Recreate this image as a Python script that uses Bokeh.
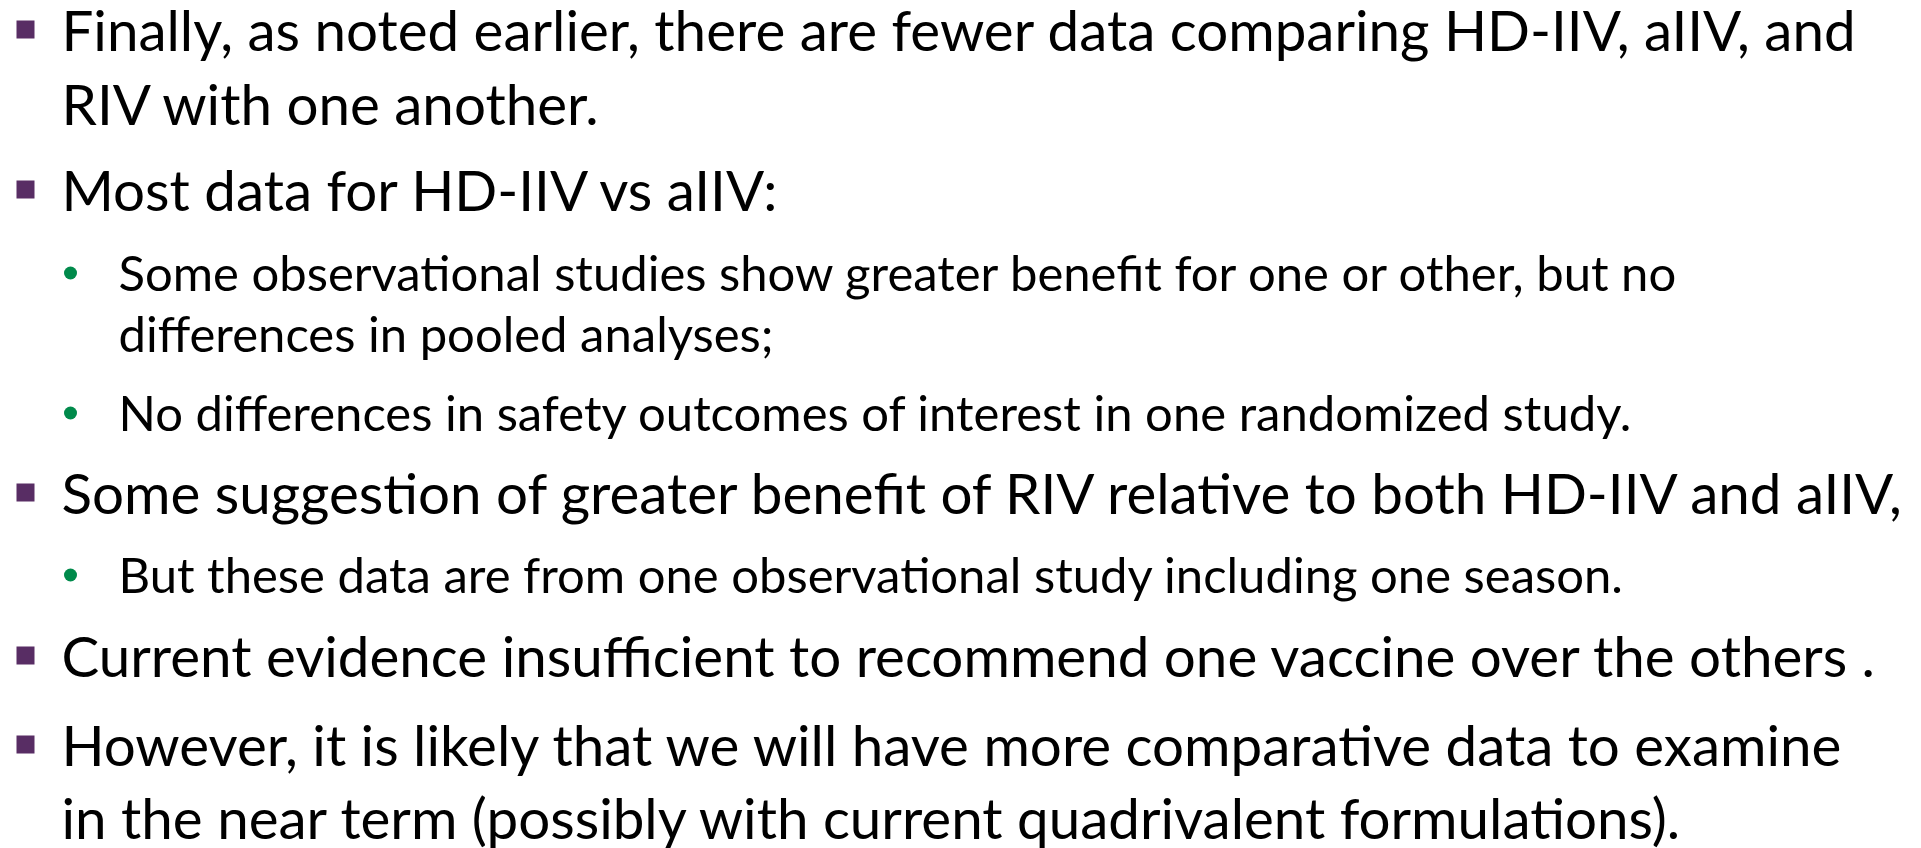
from bokeh.plotting import figure
from bokeh.models import Range1d, ColumnDataSource
from bokeh.core.properties import value
from bokeh.embed import file_html
from bokeh.resources import INLINE

# ---- content (text lines and their outline level) ----
lines = [
    "Finally, as noted earlier, there are fewer data comparing HD-IIV, aIIV, and",
    "RIV with one another.",
    "Most data for HD-IIV vs aIIV:",
    "Some observational studies show greater benefit for one or other, but no",
    "differences in pooled analyses;",
    "No differences in safety outcomes of interest in one randomized study.",
    "Some suggestion of greater benefit of RIV relative to both HD-IIV and aIIV,",
    "But these data are from one observational study including one season.",
    "Current evidence insufficient to recommend one vaccine over the others .",
    "However, it is likely that we will have more comparative data to examine",
    "in the near term (possibly with current quadrivalent formulations).",
]
levels = [0, 0, 0, 1, 1, 1, 0, 1, 0, 0, 0]
starts_bullet = [True, False, True, True, False, True, True, True, True, True, False]

# ---- layout (baselines in page pixels) ----
W, H = 1913, 848
baselines = [52, 126, 212, 292, 353, 432, 515, 594, 678, 767, 840]
MAIN_X, SUB_X = 61, 118
MAIN_SIZE, SUB_SIZE = 56.5, 49
BASE_SHIFT = 0.41  # compensate renderer's baseline placement (em)

p = figure(width=W, height=H, output_backend="svg", toolbar_location=None,
           x_range=Range1d(0, W), y_range=Range1d(H, 0), min_border=0)
p.axis.visible = False
p.grid.visible = False
p.outline_line_color = None
p.background_fill_color = "white"
p.border_fill_color = "white"

for lvl, size, x0 in [(0, MAIN_SIZE, MAIN_X), (1, SUB_SIZE, SUB_X)]:
    idx = [i for i, l in enumerate(levels) if l == lvl]
    src = ColumnDataSource(dict(x=[x0] * len(idx),
                                y=[baselines[i] - BASE_SHIFT * size for i in idx],
                                t=[lines[i] for i in idx]))
    p.text(x="x", y="y", text="t", source=src, text_font=value("Lato"),
           text_font_size=f"{size}px", text_color="black",
           text_baseline="alphabetic", text_align="left")

# bullets
mb = [i for i in range(len(lines)) if starts_bullet[i] and levels[i] == 0]
sb = [i for i in range(len(lines)) if starts_bullet[i] and levels[i] == 1]
p.rect(x=[25] * len(mb), y=[baselines[i] - 23 for i in mb],
       width=18, height=18, width_units="screen", height_units="screen",
       fill_color="#582D64", line_color=None)
p.circle(x=[70] * len(sb), y=[baselines[i] - 19.5 for i in sb],
         radius=6.5, radius_units="screen", fill_color="#008A4B", line_color=None)

open("out.html", "w").write(file_html(p, INLINE))
